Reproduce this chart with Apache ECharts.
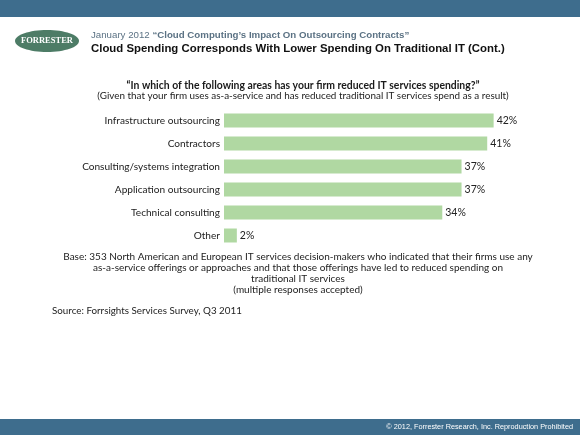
<!DOCTYPE html>
<html>
<head>
<meta charset="utf-8">
<script src="https://cdn.jsdelivr.net/npm/echarts@6/dist/echarts.min.js"></script>
<style>
  html, body { margin: 0; padding: 0; background: #fff; }
  #chart { width: 580px; height: 435px; }
</style>
</head>
<body>
<div id="chart"></div>
<script>
// 数据
const categories = ['Infrastructure outsourcing', 'Contractors', 'Consulting/systems integration', 'Application outsourcing', 'Technical consulting', 'Other']
const values = [42, 41, 37, 37, 34, 2]
const baseLines = [
  'Base: 353 North American and European IT services decision-makers who indicated that their firms use any',
  'as-a-service offerings or approaches and that those offerings have led to reduced spending on',
  'traditional IT services',
  '(multiple responses accepted)'
]

const font = 'Lato'
const chart = echarts.init(document.getElementById('chart'))

const option = {
  animation: false,
  backgroundColor: '#fff',
  title: {
    text: '\u201cIn which of the following areas has your firm reduced IT services spending?\u201d',
    subtext: '(Given that your firm uses as-a-service and has reduced traditional IT services spend as a result)',
    left: 298,
    textAlign: 'center',
    top: 76,
    itemGap: 0,
    textStyle: { fontFamily: font, fontSize: 10.4, fontWeight: 'bold', color: '#1a1a1a' },
    subtextStyle: { fontFamily: font, fontSize: 9.9, color: '#222' }
  },
  grid: { left: 224, top: 109, width: 321, height: 138 },
  xAxis: {
    type: 'value',
    min: 0,
    max: 50,
    show: false
  },
  yAxis: {
    type: 'category',
    data: categories,
    inverse: true,
    axisLine: { show: false },
    axisTick: { show: false },
    axisLabel: { margin: 4, fontFamily: font, fontSize: 10.1, color: '#222' }
  },
  series: [
    {
      type: 'bar',
      data: values,
      barWidth: 14,
      itemStyle: { color: '#b0d8a2' },
      label: {
        show: true,
        position: 'right',
        distance: 3,
        formatter: '{c}%',
        fontFamily: font,
        fontSize: 10.5,
        color: '#222'
      }
    }
  ],
  graphic: [
    // 顶部色条
    { type: 'rect', shape: { x: 0, y: 0, width: 580, height: 17 }, style: { fill: '#3e6d8d' } },
    // 底部色条
    { type: 'rect', shape: { x: 0, y: 419, width: 580, height: 16 }, style: { fill: '#3e6d8d' } },
    { type: 'text', x: 573, y: 427, style: { text: '\u00a9 2012, Forrester Research, Inc. Reproduction Prohibited', fill: '#fff', font: '7.3px Arial', align: 'right', verticalAlign: 'middle' } },
    // logo
    { type: 'ellipse', shape: { cx: 47, cy: 41, rx: 32, ry: 11 }, style: { fill: '#4d7c66' } },
    { type: 'text', x: 47, y: 41, style: { text: 'FORRESTER', fill: '#fff', font: 'bold 8.5px "Liberation Serif"', align: 'center', verticalAlign: 'middle' } },
    // 标题
    {
      type: 'text', x: 91, y: 35,
      style: {
        verticalAlign: 'middle',
        text: '{n|January 2012 }{b|\u201cCloud Computing\u2019s Impact On Outsourcing Contracts\u201d}',
        rich: {
          n: { font: '9.7px Arial', fill: '#5b7284' },
          b: { font: 'bold 9.7px Arial', fill: '#5b7284' }
        }
      }
    },
    { type: 'text', x: 91, y: 49, style: { text: 'Cloud Spending Corresponds With Lower Spending On Traditional IT (Cont.)', font: 'bold 11.4px Arial', fill: '#111', verticalAlign: 'middle' } },
    // 说明
    {
      type: 'text', x: 298, y: 251.5,
      style: { text: baseLines.join('\n'), font: '10px ' + font, fill: '#222', align: 'center', lineHeight: 11 }
    },
    { type: 'text', x: 52, y: 311, style: { text: 'Source: Forrsights Services Survey, Q3 2011', font: '9.8px ' + font, fill: '#222', verticalAlign: 'middle' } }
  ]
}
chart.setOption(option)
</script>
</body>
</html>
